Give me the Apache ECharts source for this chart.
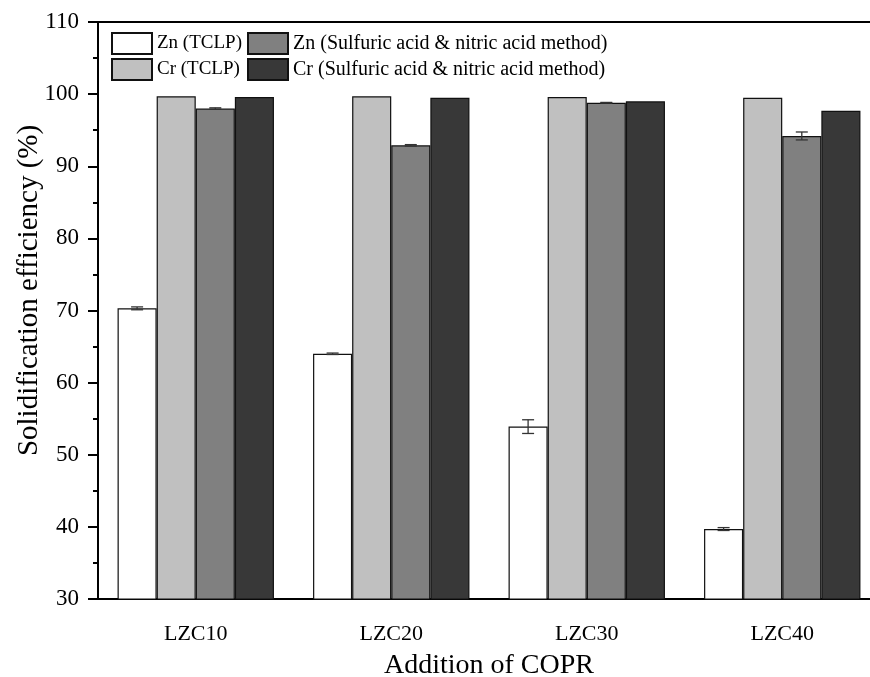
<!DOCTYPE html>
<html>
<head>
<meta charset="utf-8">
<script src="https://cdn.jsdelivr.net/npm/echarts@6/dist/echarts.min.js"></script>
<style>
  html, body { margin: 0; padding: 0; background: #fff; }
  #chart { width: 870px; height: 677px; }
</style>
</head>
<body>
<div id="chart"></div>
<script>
const categories = ['LZC10', 'LZC20', 'LZC30', 'LZC40']
const seriesNames = [
  'Zn (TCLP)',
  'Cr (TCLP)',
  'Zn (Sulfuric acid & nitric acid method)',
  'Cr (Sulfuric acid & nitric acid method)',
]
const znTclp = [70.3, 64.0, 53.9, 39.7]
const crTclp = [99.7, 99.7, 99.6, 99.5]
const znAcid = [98.0, 92.9, 98.8, 94.2]
const crAcid = [99.6, 99.5, 99.0, 97.7]
const znTclpErr = [0.2, 0.1, 0.95, 0.2]
const znAcidErr = [0.1, 0.1, 0.05, 0.55]
const barColors = ['#ffffff', '#c0c0c0', '#808080', '#383838']

// bar order inside each group: Zn TCLP, Cr TCLP, Zn acid, Cr acid
const values = [znTclp, crTclp, znAcid, crAcid]
const errData = []
znTclp.forEach((v, i) => errData.push([i, 0, v, znTclpErr[i]]))
znAcid.forEach((v, i) => errData.push([i, 2, v, znAcidErr[i]]))

const font = 'Liberation Serif, Times New Roman, serif'
const chart = echarts.init(document.getElementById('chart'))

const barSeries = values.map((d, i) => ({
  name: seriesNames[i],
  type: 'bar',
  data: d,
  barGap: '0%',
  barCategoryGap: '20%',
  itemStyle: {
    color: barColors[i],
    borderColor: '#111',
    borderWidth: 1.2,
  },
  z: 2,
}))

const errSeries = {
  type: 'custom',
  name: 'err',
  data: errData,
  encode: { x: 0, y: 2 },
  z: 5,
  renderItem(params, api) {
    const cat = api.value(0), k = api.value(1), v = api.value(2), e = api.value(3)
    const band = api.size([1, 0])[0]
    const barW = band * 0.8 / 4
    const c = api.coord([cat, v])
    const x = c[0] + (k - 1.5) * barW
    const hi = api.coord([cat, v + e])[1]
    const lo = api.coord([cat, v - e])[1]
    const cap = 6
    const style = { stroke: '#333', lineWidth: 1.3 }
    return {
      type: 'group',
      children: [
        { type: 'line', shape: { x1: x, y1: hi, x2: x, y2: lo }, style },
        { type: 'line', shape: { x1: x - cap, y1: hi, x2: x + cap, y2: hi }, style },
        { type: 'line', shape: { x1: x - cap, y1: lo, x2: x + cap, y2: lo }, style },
      ]
    }
  }
}

const legendBase = {
  orient: 'vertical',
  top: 32,
  padding: 0,
  itemWidth: 40,
  itemHeight: 21,
  itemGap: 3,
  icon: 'rect',
  selectedMode: false,
}

chart.setOption({
  animation: false,
  textStyle: { fontFamily: font },
  grid: {
    left: 98, top: 22, width: 782, bottom: 78,
    outerBoundsMode: 'none',
    containLabel: false,
    show: false,
  },
  legend: [
    { ...legendBase, left: 111, data: [seriesNames[0], seriesNames[1]],
      textStyle: { fontFamily: font, fontSize: 19, lineHeight: 21, color: '#000' } },
    { ...legendBase, left: 247, data: [seriesNames[2], seriesNames[3]],
      textStyle: { fontFamily: font, fontSize: 20, lineHeight: 21, color: '#000' } },
  ],
  xAxis: [{
    type: 'category',
    data: categories,
    name: 'Addition of COPR',
    nameLocation: 'middle',
    nameGap: 53,
    nameMoveOverlap: false,
    nameTextStyle: { fontFamily: font, fontSize: 28, color: '#000' },
    axisLine: { lineStyle: { color: '#000', width: 2 } },
    axisTick: { alignWithLabel: true, length: 10, lineStyle: { color: '#000', width: 2 } },
    axisLabel: { fontFamily: font, fontSize: 22, color: '#000', margin: 24 },
  }, {
    // top frame line only
    type: 'category',
    data: categories,
    position: 'top',
    axisLine: { lineStyle: { color: '#000', width: 2 } },
    axisTick: { show: false },
    axisLabel: { show: false },
  }],
  yAxis: {
    type: 'value',
    min: 30, max: 110, interval: 10,
    name: 'Solidification efficiency (%)',
    nameLocation: 'middle',
    nameGap: 54,
    nameMoveOverlap: false,
    nameTextStyle: { fontFamily: font, fontSize: 29, color: '#000', padding: [0, 0, 0, 40] },
    axisLine: { show: true, lineStyle: { color: '#000', width: 2 } },
    axisTick: { show: true, length: 10, lineStyle: { color: '#000', width: 2 } },
    minorTick: { show: true, splitNumber: 2, length: 5, lineStyle: { color: '#000', width: 2 } },
    splitLine: { show: false },
    axisLabel: { fontFamily: font, fontSize: 23, color: '#000', margin: 19 },
  },
  series: [...barSeries, errSeries],
})
</script>
</body>
</html>
